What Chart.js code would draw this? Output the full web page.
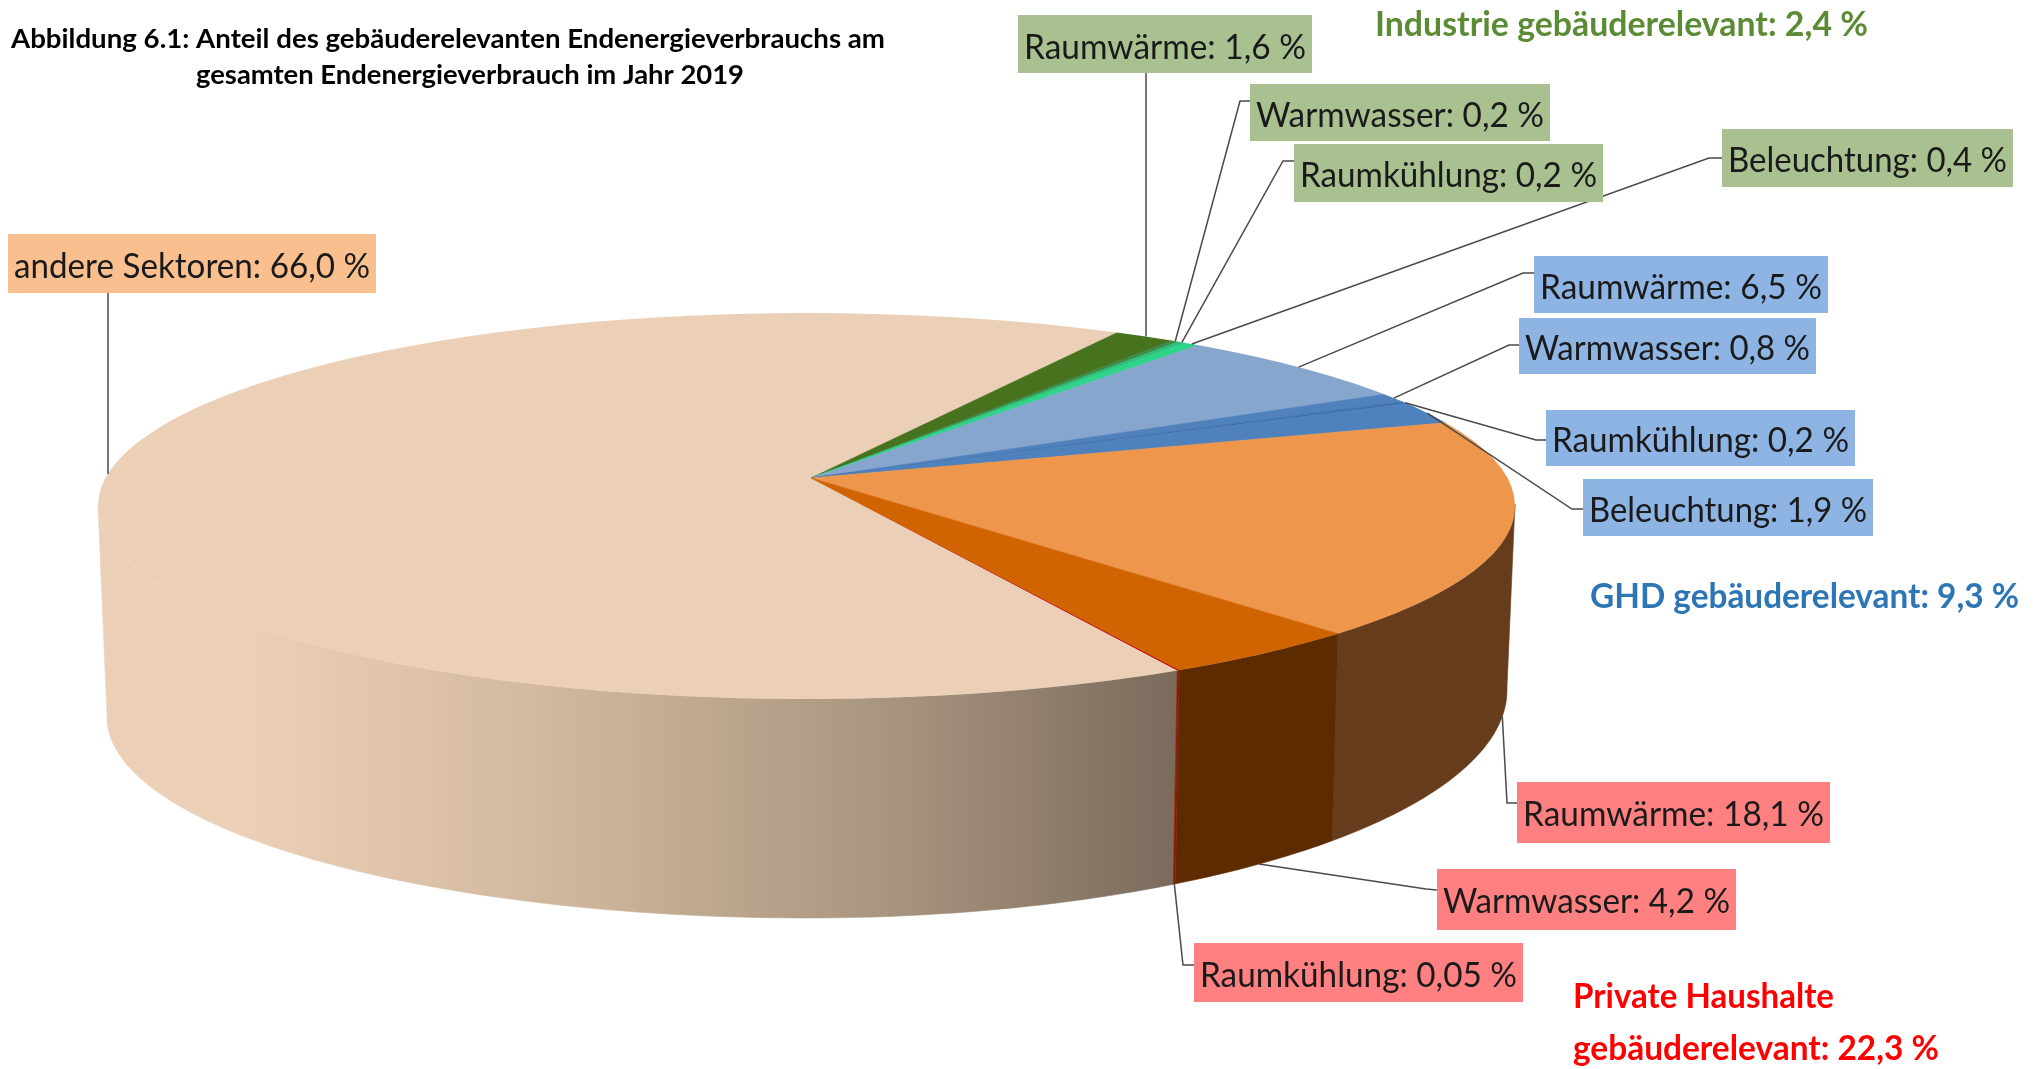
<!DOCTYPE html>
<html lang="de">
<head>
<meta charset="utf-8">
<title>Abbildung 6.1</title>
<script src="https://cdn.jsdelivr.net/npm/chart.js@4/dist/chart.umd.min.js"></script>
<style>
html,body{margin:0;padding:0;background:#fff;width:2044px;height:1069px;overflow:hidden}
canvas{display:block;filter:blur(0.7px)}
</style>
</head>
<body>
<canvas id="c" width="2044" height="1069"></canvas>
<script>
// ---- data ----
const titleLines = ["Abbildung 6.1: Anteil des gebäuderelevanten Endenergieverbrauchs am", "gesamten Endenergieverbrauch im Jahr 2019"];
const sliceNames = ["andere Sektoren","Raumwärme","Warmwasser","Raumkühlung","Beleuchtung","Raumwärme","Warmwasser","Raumkühlung","Beleuchtung","Raumwärme","Warmwasser","Raumkühlung"];
const sliceValues = [66.0,1.6,0.2,0.2,0.4,6.5,0.8,0.2,1.9,18.1,4.2,0.05];
const valueTexts = ["66,0 %","1,6 %","0,2 %","0,2 %","0,4 %","6,5 %","0,8 %","0,2 %","1,9 %","18,1 %","4,2 %","0,05 %"];
const groupHeadings = ["Industrie gebäuderelevant: 2,4 %","GHD gebäuderelevant: 9,3 %","Private Haushalte","gebäuderelevant: 22,3 %"];

// ---- styles ----
const sliceColors = ["#EBD0B7","#47731F","#3D8A4A","#2FBF78","#2DD48A","#87A6CE","#4F81BD","#3F70AE","#4F81BD","#EE964B","#D06400","#C00000"];
const sliceBorders = [0.6,0.6,0.6,0.6,0.6,0.6,0.6,0.6,0.6,0.6,0.6,0];
const wallColors = [null,null,null,null,null,null,null,null,null,"#663C1C","#5C2C00","#8A1C00"];
const boxColors = ["#FABF8F","#A9C090","#A9C090","#A9C090","#A9C090","#8DB4E2","#8DB4E2","#8DB4E2","#8DB4E2","#FF8080","#FF8080","#FF8080"];
const headingColors = ["#5B8C35","#2E75B6","#FF0000","#FF0000"];
const labelFont = '35px Lato, sans-serif';

// ---- layout ----
const apex = {x:811, y:478};
const topE = {cx:806.5, cy:506, rx:708.5, ry:193};
const botE = {cx:807, cy:717, rx:700, ry:201, cyRight:690, ryRight:228};
// x0,y0,x1,y1 of the label box, baseline, leader exit point on the box, elbow, wall flag
const boxes = [
 {b:[8,234,376,293],  base:278, from:[108,293],  elbow:null,      wall:false},
 {b:[1018,15,1312,73],base:59,  from:[1146,73],  elbow:null,      wall:false},
 {b:[1250,84,1550,141],base:127,from:[1250,101], elbow:[1240,101],wall:false},
 {b:[1294,144,1603,202],base:187,from:[1294,161],elbow:[1283,161],wall:false},
 {b:[1722,129,2013,187],base:172,from:[1722,158],elbow:[1709,158],wall:false},
 {b:[1534,256,1828,313],base:299,from:[1534,273],elbow:[1523,273],wall:false},
 {b:[1519,318,1816,374],base:360,from:[1519,345],elbow:[1509,345],wall:false},
 {b:[1546,410,1855,466],base:452,from:[1546,440],elbow:[1536,440],wall:false},
 {b:[1583,479,1873,536],base:522,from:[1583,509],elbow:[1572,509],wall:false},
 {b:[1517,782,1830,843],base:826,from:[1517,803],elbow:[1507,803],wall:true},
 {b:[1437,869,1736,930],base:913,from:[1437,890],elbow:[1426,889],wall:true},
 {b:[1194,943,1523,1002],base:987,from:[1194,965],elbow:[1183,965],wall:true}
];
const headingPos = [[1375,36,493],[1590,608,429],[1573,1008,261],[1573,1060,366]];
const titlePos = [[11,48,874],[196,84,548]];

function rimParam(a){
  const X0=(apex.x-topE.cx)/topE.rx, Y0=(apex.y-topE.cy)/topE.ry;
  const dX=Math.cos(a)/topE.rx, dY=Math.sin(a)/topE.rx;
  const A=dX*dX+dY*dY, B=2*(X0*dX+Y0*dY), C=X0*X0+Y0*Y0-1;
  const u=(-B+Math.sqrt(B*B-4*A*C))/(2*A);
  return Math.atan2(Y0+u*dY, X0+u*dX);
}
const onTop = t=>[topE.cx+topE.rx*Math.cos(t), topE.cy+topE.ry*Math.sin(t)];
const onBot = t=>{
  const right=Math.cos(t)>0;
  const cy=right?botE.cyRight:botE.cy, ry=right?botE.ryRight:botE.ry;
  return [botE.cx+botE.rx*Math.cos(t), cy+ry*Math.sin(t)];
};

function fitText(ctx,text,x,y,w){
  const m=ctx.measureText(text).width;
  ctx.save();
  ctx.translate(x,y);
  ctx.scale(w/m,1);
  ctx.fillText(text,0,0);
  ctx.restore();
}

const pie3d = {
  id:'pie3d',
  beforeDatasetsDraw(chart){
    const ctx=chart.ctx, arcs=chart.getDatasetMeta(0).data;
    // side walls
    arcs.forEach((arc,i)=>{
      const wall = i===0 ? (()=>{
        const g=ctx.createLinearGradient(250,0,1174,0);
        g.addColorStop(0,'#EBD0B7'); g.addColorStop(0.35,'#CFB59C'); g.addColorStop(0.7,'#A8947E'); g.addColorStop(1,'#7A6B5C');
        return g;})() : wallColors[i];
      if(!wall) return;
      const n=Math.max(2,Math.ceil((arc.endAngle-arc.startAngle)*60));
      const ts=[];
      for(let j=0;j<=n;j++){
        const t=rimParam(arc.startAngle+(arc.endAngle-arc.startAngle)*j/n);
        if(Math.sin(t)>=-0.02) ts.push(t);
      }
      if(ts.length<2) return;
      ctx.beginPath();
      ts.forEach((t,j)=>{const p=onTop(t); j?ctx.lineTo(p[0],p[1]):ctx.moveTo(p[0],p[1]);});
      ts.slice().reverse().forEach(t=>{const p=onBot(t); ctx.lineTo(p[0],p[1]);});
      ctx.closePath();
      ctx.fillStyle=wall; ctx.fill();
      ctx.strokeStyle=wall; ctx.lineWidth=0.6; ctx.stroke();
    });
    // top face: Chart.js circle pressed into the ellipse around the off-centre apex
    const a0=arcs[0], s=860/a0.outerRadius, k=topE.ry/topE.rx;
    ctx.save();
    ctx.beginPath();
    ctx.ellipse(topE.cx,topE.cy,topE.rx,topE.ry,0,0,Math.PI*2);
    ctx.clip();
    ctx.translate(apex.x,apex.y);
    ctx.scale(s,s*k);
    ctx.translate(-a0.x,-a0.y);
  },
  afterDatasetsDraw(chart){
    const ctx=chart.ctx, arcs=chart.getDatasetMeta(0).data;
    ctx.restore();
    // leader lines
    arcs.forEach((arc,i)=>{
      const l=boxes[i], t=rimParam((arc.startAngle+arc.endAngle)/2);
      const p=l.wall?onBot(t):onTop(t);
      ctx.beginPath();
      ctx.moveTo(l.from[0],l.from[1]);
      if(l.elbow) ctx.lineTo(l.elbow[0],l.elbow[1]);
      ctx.lineTo(l.elbow?p[0]:l.from[0],p[1]);
      ctx.strokeStyle='#4a4a4a'; ctx.lineWidth=1.5; ctx.stroke();
    });
    // label boxes
    ctx.textBaseline='alphabetic'; ctx.textAlign='left';
    arcs.forEach((arc,i)=>{
      const l=boxes[i],b=l.b;
      ctx.fillStyle=boxColors[i];
      ctx.fillRect(b[0],b[1],b[2]-b[0],b[3]-b[1]);
      ctx.fillStyle='#1a1a1a'; ctx.font=labelFont;
      fitText(ctx,sliceNames[i]+': '+valueTexts[i],b[0]+6,l.base,b[2]-b[0]-12);
    });
    // headings
    ctx.font='bold 34px Lato, sans-serif';
    groupHeadings.forEach((h,i)=>{
      ctx.fillStyle=headingColors[i];
      fitText(ctx,h,headingPos[i][0],headingPos[i][1],headingPos[i][2]);
    });
    ctx.font='bold 27px Lato, sans-serif'; ctx.fillStyle='#000';
    titleLines.forEach((h,i)=>fitText(ctx,h,titlePos[i][0],titlePos[i][1],titlePos[i][2]));
  }
};

new Chart(document.getElementById('c'),{
  type:'pie',
  data:{labels:sliceNames,datasets:[{data:sliceValues,backgroundColor:sliceColors,borderColor:sliceColors,borderWidth:sliceBorders,clip:false}]},
  options:{
    responsive:false,animation:false,events:[],
    rotation:152.6,
    layout:{padding:0},
    plugins:{legend:{display:false},tooltip:{enabled:false},title:{display:false}}
  },
  plugins:[pie3d]
});
</script>
</body>
</html>
